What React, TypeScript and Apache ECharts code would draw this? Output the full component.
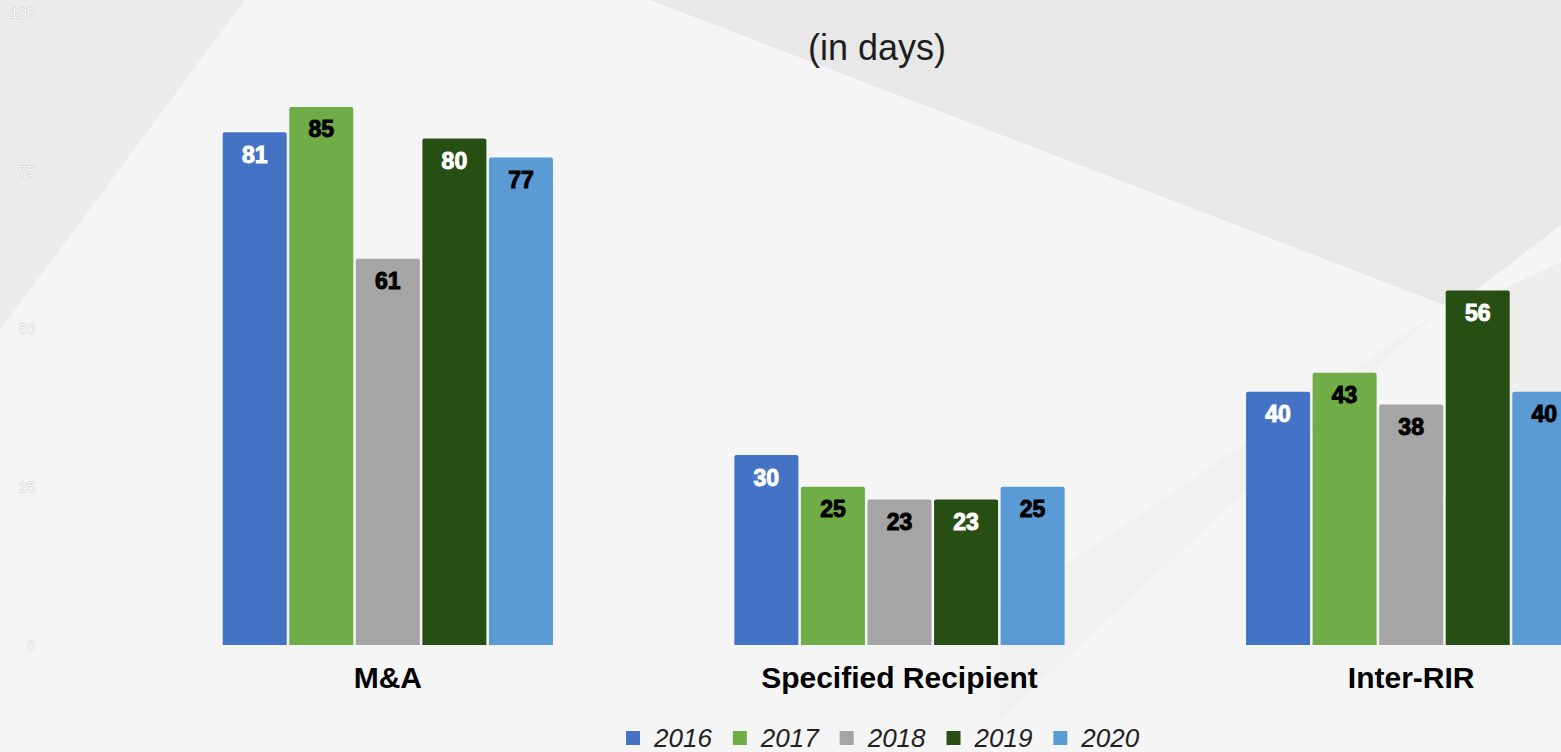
import React, { useEffect, useRef } from "react";
import * as echarts from "echarts";

const categories = ["M&A", "Specified Recipient", "Inter-RIR"];
const years = ["2016", "2017", "2018", "2019", "2020"];
const values2016 = [81, 30, 40];
const values2017 = [85, 25, 43];
const values2018 = [61, 23, 38];
const values2019 = [80, 23, 56];
const values2020 = [77, 25, 40];
const seriesValues = [values2016, values2017, values2018, values2019, values2020];
const colors = ["#4472C4", "#70AD47", "#A5A5A5", "#274E13", "#5B9BD5"];
const labelColors = ["#ffffff", "#000000", "#000000", "#ffffff", "#000000"];
const yTicks = [0, 25, 50, 75, 100];

const FONT = "'Liberation Sans', Arial, Helvetica, sans-serif";

export default function App() {
  const ref = useRef<HTMLDivElement>(null);
  useEffect(() => {
    document.body.style.margin = "0";
    document.body.style.overflow = "hidden";
    if (!ref.current) return;
    const chart = echarts.init(ref.current, undefined, { renderer: "svg" });
    const option = {
      animation: false,
      backgroundColor: "#f5f5f5",
      graphic: [
        { type: "polygon", z: -10, shape: { points: [[0, 0], [245, 0], [0, 330]] }, style: { fill: "#ebebeb" } },
        { type: "polygon", z: -10, shape: { points: [[650, 0], [1667, 0], [1667, 150], [1561, 225], [1452, 308]] }, style: { fill: "#e8e8e8" } },
        { type: "polygon", z: -10, shape: { points: [[1452, 312], [1561, 262], [1667, 262], [1667, 645], [1440, 645]] }, style: { fill: "#eeeeee" } },
        { type: "polygon", z: -10, shape: { points: [[1440, 310], [1000, 610], [1000, 720]] }, style: { fill: "#f1f1f1" } },
      ],
      title: {
        text: "(in days)",
        left: 803,
        top: 24,
        textStyle: { fontFamily: FONT, fontSize: 36, fontWeight: "normal", color: "#1e1e1e" },
      },
      legend: {
        data: years,
        left: 621,
        top: 720,
        itemWidth: 14,
        itemHeight: 14,
        itemGap: 21,
        icon: "rect",
        textStyle: { fontFamily: FONT, fontSize: 26, fontStyle: "italic", color: "#222222", padding: [0, 0, 0, 9] },
      },
      grid: { left: 132, right: 0, top: 12, bottom: 107, containLabel: false },
      xAxis: {
        type: "category",
        data: categories,
        axisLine: { show: false },
        axisTick: { show: false },
        axisLabel: { margin: 17, fontFamily: FONT, fontSize: 30, fontWeight: "bold", color: "#000000" },
      },
      yAxis: {
        type: "value",
        min: 0,
        max: 100,
        interval: 25,
        offset: 89,
        z: 5,
        axisLine: { show: false },
        axisTick: { show: false },
        splitLine: { show: false },
        axisLabel: {
          margin: 8,
          fontFamily: FONT,
          fontSize: 15,
          color: "#fbfbfb",
          textBorderColor: "#cccccc",
          textBorderWidth: 1,
          formatter: (v: number) => (yTicks.includes(v) ? String(v) : ""),
        },
      },
      series: years.map((y, i) => ({
        name: y,
        type: "bar",
        data: seriesValues[i],
        barWidth: 64,
        barGap: "4%",
        itemStyle: { color: colors[i], borderRadius: [2, 2, 0, 0] },
        label: {
          show: true,
          position: "insideTop",
          distance: 11,
          fontFamily: FONT,
          fontSize: 23,
          fontWeight: 900,
          color: labelColors[i],
          textBorderColor: labelColors[i],
          textBorderWidth: 1,
        },
      })),
    };
    chart.setOption(option);
    return () => chart.dispose();
  }, []);
  return (
    <div style={{ width: 1561, height: 752, overflow: "hidden", position: "relative" }}>
      <div ref={ref} style={{ width: 1667, height: 752 }} />
    </div>
  );
}
